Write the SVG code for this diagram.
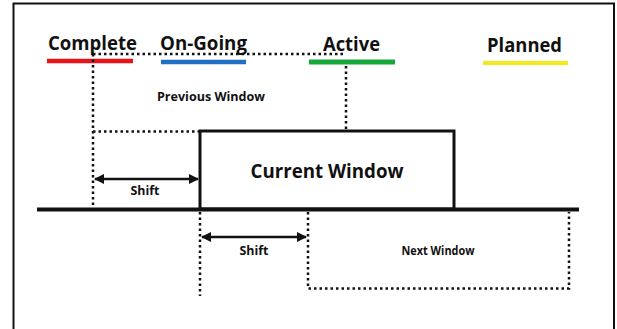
<svg xmlns="http://www.w3.org/2000/svg" width="617" height="329" viewBox="0 0 617 329">
<defs>
<style>
.t{font-family:"Open Sans","Liberation Sans",sans-serif;font-weight:bold;fill:#111}
.dot{fill:none;stroke:#111;stroke-width:2.5;stroke-dasharray:2.5 3}
.solid{fill:none;stroke:#111;stroke-width:3}
</style>
<marker id="ah" viewBox="0 0 10 10" refX="9" refY="5" markerWidth="4" markerHeight="4" orient="auto-start-reverse">
<path d="M0,0 L10,5 L0,10 z" fill="#111"/>
</marker>
</defs>
<rect x="0" y="0" width="617" height="329" fill="#fff"/>
<path d="M13.5,340 V3.5 H614 V340" fill="none" stroke="#111" stroke-width="2"/>
<g id="legend">
<text class="t" x="48" y="50" font-size="19" textLength="89" lengthAdjust="spacingAndGlyphs">Complete</text>
<line x1="47" y1="61" x2="133" y2="61" stroke="#e8141c" stroke-width="4.5"/>
<text class="t" x="160" y="50" font-size="19" textLength="87" lengthAdjust="spacingAndGlyphs">On-Going</text>
<line x1="161" y1="62" x2="246" y2="62" stroke="#1f6fc4" stroke-width="4.5"/>
<text class="t" x="323" y="51" font-size="19" textLength="57" lengthAdjust="spacingAndGlyphs">Active</text>
<line x1="309" y1="62" x2="395" y2="62" stroke="#17a83a" stroke-width="5"/>
<text class="t" x="487" y="52" font-size="19" textLength="75" lengthAdjust="spacingAndGlyphs">Planned</text>
<line x1="483" y1="63" x2="568" y2="63" stroke="#f2ea1a" stroke-width="4"/>
</g>
<g id="previous-window">
<text class="t" x="211" y="101" font-size="12" text-anchor="middle" textLength="108" lengthAdjust="spacingAndGlyphs">Previous Window</text>
</g>
<g id="current-window">
<rect x="200" y="131" width="254" height="78" class="solid"/>
<text class="t" x="327" y="178" font-size="19" text-anchor="middle" textLength="153" lengthAdjust="spacingAndGlyphs">Current Window</text>
</g>
<g id="next-window">
<text class="t" x="438" y="255" font-size="12" text-anchor="middle" textLength="73" lengthAdjust="spacingAndGlyphs">Next Window</text>
</g>
<g id="timeline">
<line x1="37" y1="209.5" x2="579" y2="209.5" stroke="#111" stroke-width="4"/>
</g>
<g id="connectors">
<path class="dot" d="M93,54 H345"/>
<path class="dot" d="M93,54 V208"/>
<path class="dot" d="M346,66 V129"/>
<path class="dot" d="M93,131.5 H199"/>
<path class="dot" d="M200,212 V296"/>
<path class="dot" d="M308,212 V288.5 H569 V212"/>
<line x1="95" y1="179" x2="198" y2="179" stroke="#111" stroke-width="2.5" marker-start="url(#ah)" marker-end="url(#ah)"/>
<line x1="202" y1="237" x2="306" y2="237" stroke="#111" stroke-width="2.5" marker-start="url(#ah)" marker-end="url(#ah)"/>
<text class="t" x="145" y="195" font-size="12" text-anchor="middle" textLength="29" lengthAdjust="spacingAndGlyphs">Shift</text>
<text class="t" x="254" y="255" font-size="12" text-anchor="middle" textLength="29" lengthAdjust="spacingAndGlyphs">Shift</text>
</g>
</svg>
